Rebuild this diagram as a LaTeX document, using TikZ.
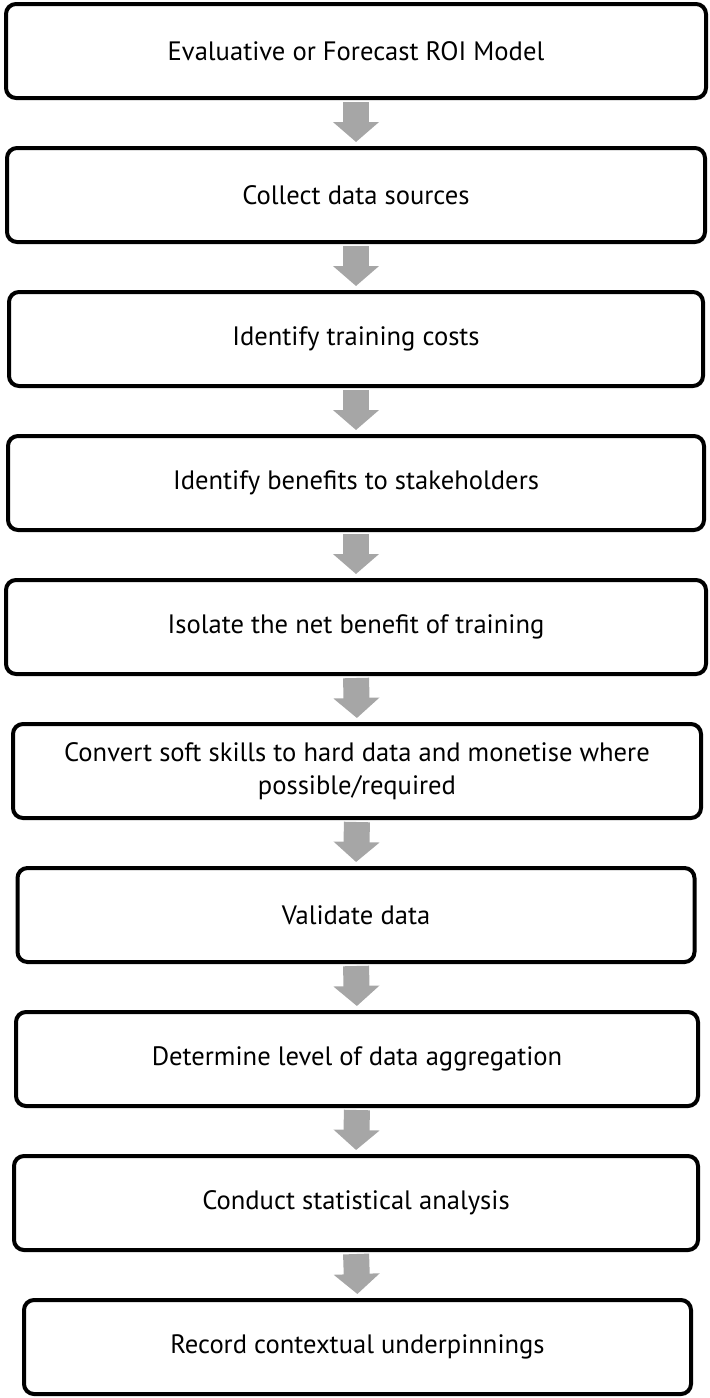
\documentclass[tikz,border=0pt]{standalone}
\usepackage{fontspec}
\setmainfont{PT Sans}
\usetikzlibrary{arrows.meta}
\definecolor{arrowgrey}{HTML}{A6A6A6}

\begin{document}
\begin{tikzpicture}[x=0.5pt,y=-0.5pt,
    stepbox/.style={draw, line width=2pt, rounded corners=5pt, fill=white,
        minimum height=47pt, align=center, font=\fontsize{13.3}{16.5}\selectfont},
    flowarrow/.style={arrowgrey, line width=13pt,
        -{Triangle[length=10pt, width=22.5pt]}, shorten <=1pt, shorten >=2pt}]
                \useasboundingbox (0,0) rectangle (710,1398);

                % Steps of the ROI process
                \node[stepbox, minimum width=350pt] (model) at (356,51) {Evaluative or Forecast ROI Model};
                \node[stepbox, minimum width=349pt] (collect) at (356,195) {Collect data sources};
                \node[stepbox, minimum width=347pt] (costs) at (356,339) {Identify training costs};
                \node[stepbox, minimum width=348pt] (benefits) at (356,483) {Identify benefits to stakeholders};
                \node[stepbox, minimum width=350pt] (isolate) at (356,627) {Isolate the net benefit of training};
                \node[stepbox, minimum width=344pt] (convert) at (357,771) {Convert soft skills to hard data and monetise where\\possible/required};
                \node[stepbox, minimum width=338.5pt] (validate) at (356,915) {Validate data};
                \node[stepbox, minimum width=341pt] (aggregate) at (357,1059) {Determine level of data aggregation};
                \node[stepbox, minimum width=342pt] (analysis) at (356,1203) {Conduct statistical analysis};
                \node[stepbox, minimum width=333.5pt] (record) at (357.5,1347) {Record contextual underpinnings};

                % Grey block arrows between the steps
                \draw[flowarrow] (model.south) -- (collect.north);
                \draw[flowarrow] (collect.south) -- (costs.north);
                \draw[flowarrow] (costs.south) -- (benefits.north);
                \draw[flowarrow] (benefits.south) -- (isolate.north);
                \draw[flowarrow] (isolate.south) -- (convert.north);
                \draw[flowarrow] (convert.south) -- (validate.north);
                \draw[flowarrow] (validate.south) -- (aggregate.north);
                \draw[flowarrow] (aggregate.south) -- (analysis.north);
                \draw[flowarrow] (analysis.south) -- (record.north);
            \end{tikzpicture}
\end{document}
